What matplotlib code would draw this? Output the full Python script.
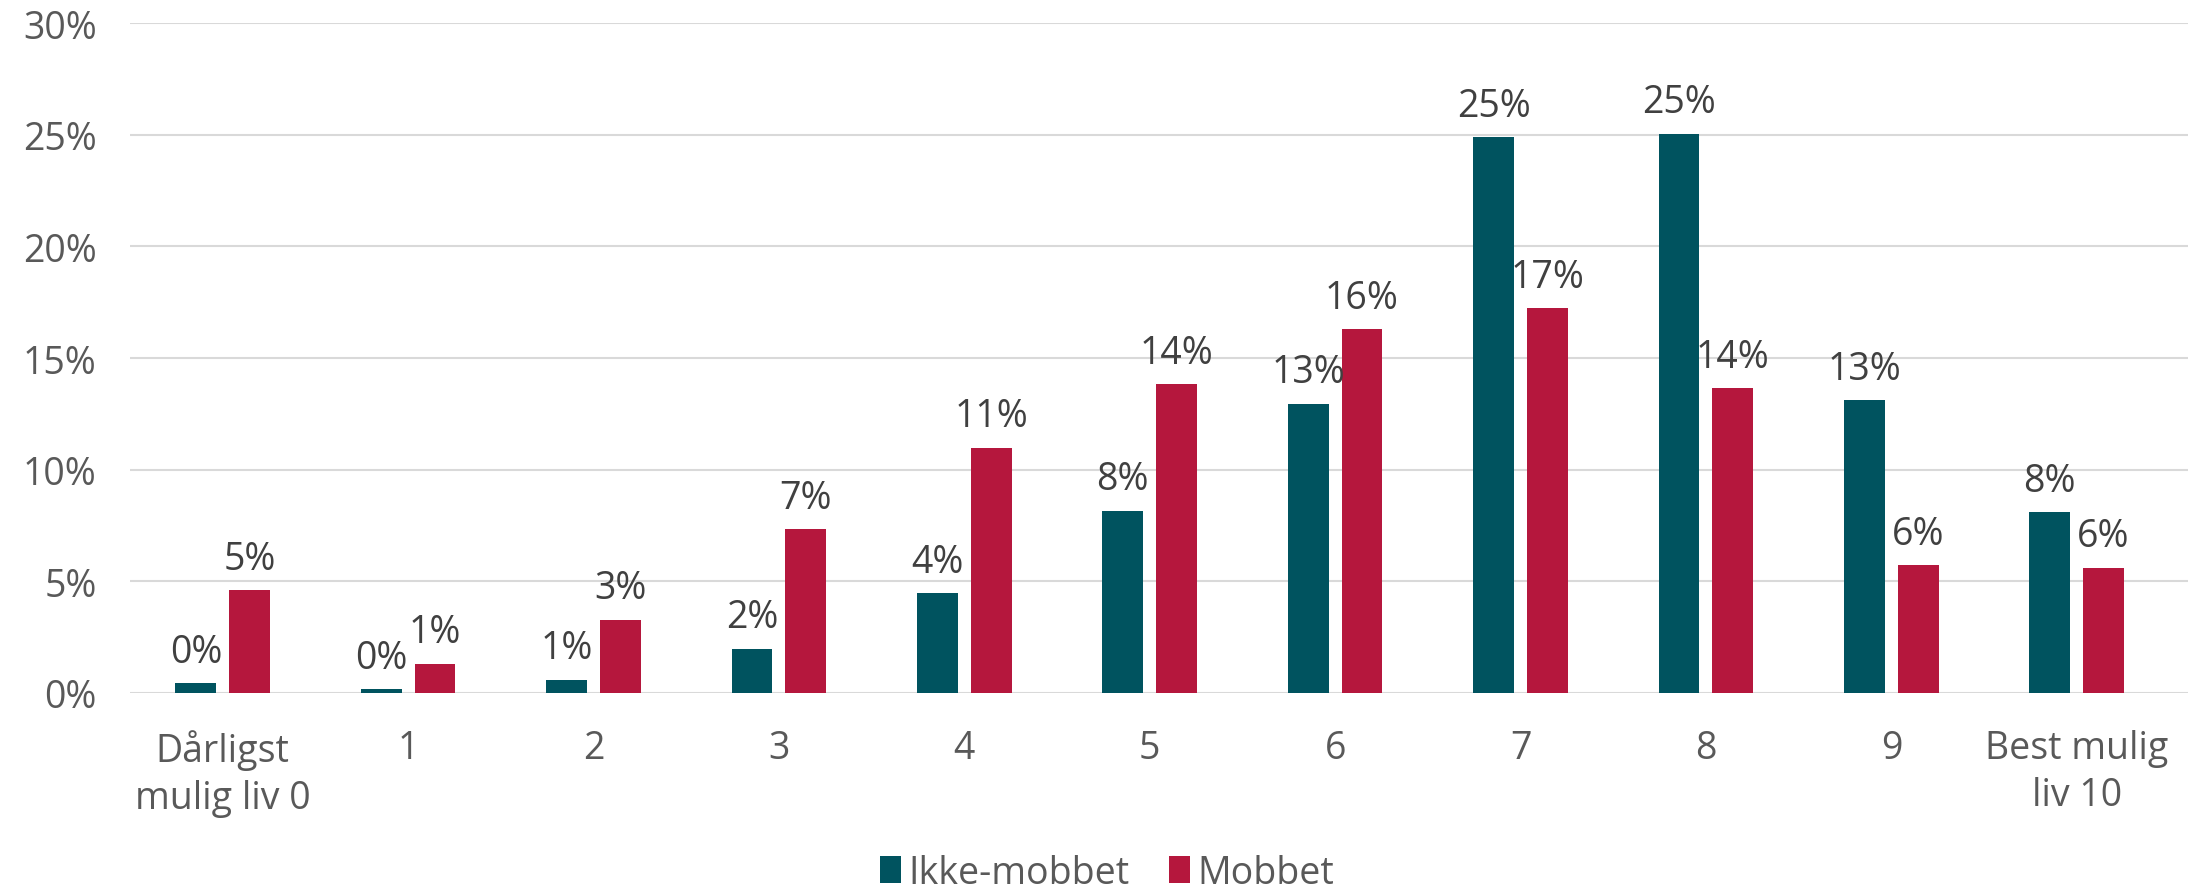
import matplotlib.pyplot as plt
import numpy as np

categories = ['Dårligst\nmulig liv 0', '1', '2', '3', '4', '5', '6', '7', '8', '9', 'Best mulig\nliv 10']
ikke_mobbet = [0.43, 0.16, 0.60, 1.97, 4.47, 8.16, 12.95, 24.90, 25.04, 13.12, 8.10]
mobbet = [4.60, 1.30, 3.28, 7.34, 10.99, 13.83, 16.28, 17.24, 13.64, 5.71, 5.61]
series_names = ['Ikke-mobbet', 'Mobbet']

teal = '#00535f'
red = '#b5173d'
label_font = ['Liberation Sans Narrow', 'Open Sans', 'DejaVu Sans']

plt.rcParams['font.family'] = ['Open Sans', 'DejaVu Sans']

fig = plt.figure(figsize=(21.93, 8.95), dpi=100)
ax = fig.add_axes([0.0593, 0.2246, 0.9384, 0.7484])

x = np.arange(len(categories))
width = 0.22
offset = 0.145
bars1 = ax.bar(x - offset, ikke_mobbet, width, color=teal, label=series_names[0], zorder=3)
bars2 = ax.bar(x + offset, mobbet, width, color=red, label=series_names[1], zorder=3)

for bars, vals in [(bars1, ikke_mobbet), (bars2, mobbet)]:
    for b, v in zip(bars, vals):
        ax.annotate(f'{round(v)}%', (b.get_x() + b.get_width() / 2, v),
                    xytext=(0, 9), textcoords='offset points',
                    ha='center', va='bottom', fontsize=27, color='#404040',
                    family=label_font)

# gridlines run a bit past the last category in the original
ax.set_xlim(-0.5, len(categories) - 0.4)
ax.set_ylim(0, 30)
ax.set_yticks(np.arange(0, 31, 5))
ax.set_yticklabels([f'{t}%' for t in range(0, 31, 5)])
ax.set_xticks(x)
ax.set_xticklabels(categories, linespacing=1.3)
ax.tick_params(axis='y', length=0, pad=24, labelsize=27, labelcolor='#595959')
ax.tick_params(axis='x', length=0, pad=26, labelsize=27, labelcolor='#595959')
ax.yaxis.grid(True, color='#d9d9d9', linewidth=1.5, zorder=0)
for s in ax.spines.values():
    s.set_visible(False)

fig.legend(loc='center', bbox_to_anchor=(0.505, 0.024), ncol=2, frameon=False,
           fontsize=27, handlelength=0.56, handleheight=0.75, handletextpad=0.2,
           columnspacing=1.05, borderpad=0, labelcolor='#595959')

fig.savefig('out.png', dpi=100)
